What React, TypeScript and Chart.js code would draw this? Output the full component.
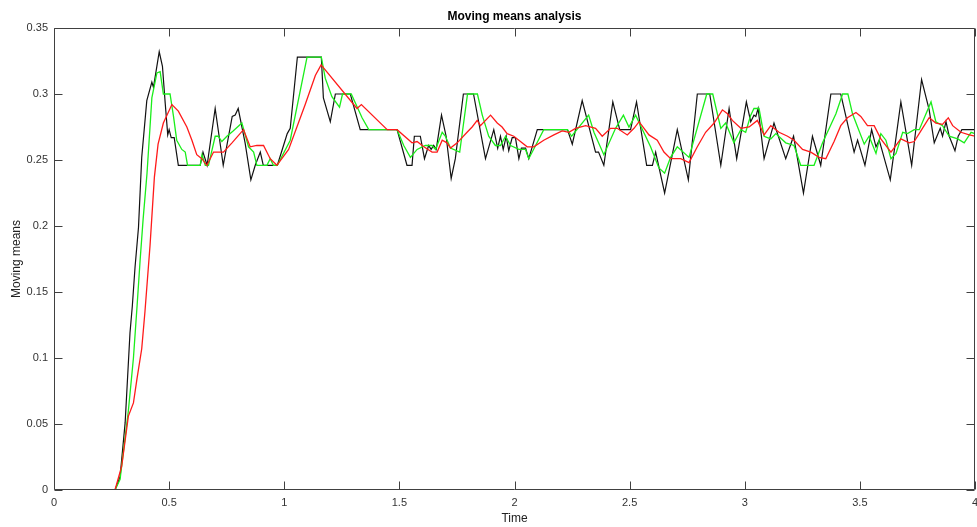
import React, { useEffect, useRef } from "react";
import { Chart, registerables } from "chart.js";

Chart.register(...registerables);

const xTicks = [0, 0.5, 1, 1.5, 2, 2.5, 3, 3.5, 4];
const yTicks = [0, 0.05, 0.1, 0.15, 0.2, 0.25, 0.3, 0.35];

const blackT = [0.239, 0.265, 0.287, 0.309, 0.33, 0.34, 0.352, 0.367, 0.381, 0.403, 0.425, 0.432, 0.457, 0.471, 0.483, 0.494, 0.5, 0.509, 0.522, 0.54, 0.635, 0.647, 0.665, 0.7, 0.735, 0.774, 0.787, 0.8, 0.83, 0.855, 0.874, 0.896, 0.909, 0.97, 1.013, 1.026, 1.057, 1.161, 1.17, 1.2, 1.222, 1.287, 1.33, 1.49, 1.533, 1.555, 1.565, 1.591, 1.609, 1.627, 1.638, 1.649, 1.66, 1.683, 1.703, 1.725, 1.743, 1.778, 1.822, 1.874, 1.91, 1.927, 1.939, 1.951, 1.964, 1.975, 1.99, 2.004, 2.019, 2.03, 2.048, 2.062, 2.099, 2.23, 2.251, 2.294, 2.352, 2.365, 2.388, 2.427, 2.457, 2.504, 2.53, 2.574, 2.599, 2.613, 2.652, 2.707, 2.755, 2.794, 2.848, 2.896, 2.932, 2.965, 3.007, 3.026, 3.04, 3.048, 3.058, 3.084, 3.127, 3.178, 3.212, 3.255, 3.294, 3.33, 3.374, 3.417, 3.475, 3.49, 3.522, 3.551, 3.57, 3.584, 3.632, 3.678, 3.725, 3.768, 3.801, 3.823, 3.849, 3.859, 3.874, 3.888, 3.913, 3.927, 3.943, 4.0];
const blackV = [0, 0, 0.01, 0.051, 0.119, 0.139, 0.169, 0.199, 0.252, 0.295, 0.309, 0.305, 0.332, 0.321, 0.293, 0.269, 0.273, 0.267, 0.267, 0.246, 0.246, 0.256, 0.246, 0.289, 0.246, 0.283, 0.284, 0.289, 0.263, 0.235, 0.246, 0.256, 0.246, 0.246, 0.27, 0.274, 0.328, 0.328, 0.297, 0.279, 0.3, 0.3, 0.273, 0.273, 0.246, 0.246, 0.268, 0.268, 0.251, 0.261, 0.258, 0.261, 0.258, 0.284, 0.268, 0.236, 0.251, 0.3, 0.3, 0.251, 0.273, 0.259, 0.268, 0.258, 0.268, 0.257, 0.267, 0.267, 0.251, 0.259, 0.259, 0.251, 0.273, 0.273, 0.262, 0.295, 0.256, 0.256, 0.246, 0.294, 0.273, 0.273, 0.294, 0.246, 0.246, 0.256, 0.225, 0.273, 0.235, 0.3, 0.3, 0.246, 0.289, 0.251, 0.294, 0.279, 0.284, 0.283, 0.289, 0.251, 0.278, 0.251, 0.268, 0.225, 0.268, 0.246, 0.3, 0.3, 0.256, 0.265, 0.246, 0.273, 0.26, 0.265, 0.235, 0.294, 0.246, 0.311, 0.288, 0.263, 0.274, 0.268, 0.279, 0.268, 0.257, 0.268, 0.273, 0.273];

const greenT = [0.239, 0.265, 0.287, 0.309, 0.323, 0.345, 0.361, 0.374, 0.387, 0.404, 0.417, 0.425, 0.447, 0.461, 0.475, 0.504, 0.519, 0.533, 0.555, 0.57, 0.58, 0.635, 0.643, 0.657, 0.671, 0.7, 0.713, 0.729, 0.751, 0.778, 0.816, 0.845, 0.867, 0.881, 0.925, 0.939, 0.953, 0.97, 1.026, 1.099, 1.161, 1.178, 1.207, 1.24, 1.253, 1.291, 1.338, 1.367, 1.49, 1.519, 1.548, 1.577, 1.613, 1.642, 1.657, 1.686, 1.7, 1.722, 1.762, 1.796, 1.839, 1.86, 1.888, 1.917, 1.939, 1.961, 1.983, 2.019, 2.048, 2.062, 2.127, 2.23, 2.248, 2.322, 2.345, 2.388, 2.439, 2.473, 2.497, 2.526, 2.591, 2.627, 2.652, 2.678, 2.707, 2.758, 2.835, 2.861, 2.896, 2.917, 2.953, 2.983, 3.004, 3.026, 3.04, 3.062, 3.084, 3.113, 3.135, 3.178, 3.214, 3.243, 3.301, 3.338, 3.396, 3.425, 3.448, 3.468, 3.49, 3.519, 3.54, 3.57, 3.591, 3.613, 3.635, 3.657, 3.686, 3.707, 3.736, 3.758, 3.809, 3.83, 3.859, 3.888, 3.925, 3.953, 3.983, 4.0];
const greenV = [0, 0, 0.008, 0.04, 0.06, 0.1, 0.14, 0.174, 0.205, 0.24, 0.275, 0.297, 0.316, 0.317, 0.3, 0.3, 0.283, 0.265, 0.258, 0.256, 0.246, 0.246, 0.254, 0.246, 0.246, 0.268, 0.268, 0.264, 0.268, 0.272, 0.278, 0.26, 0.256, 0.246, 0.246, 0.251, 0.246, 0.246, 0.265, 0.328, 0.328, 0.312, 0.298, 0.29, 0.3, 0.3, 0.282, 0.273, 0.273, 0.261, 0.252, 0.258, 0.261, 0.261, 0.258, 0.271, 0.268, 0.259, 0.256, 0.3, 0.3, 0.284, 0.268, 0.261, 0.261, 0.268, 0.261, 0.258, 0.258, 0.251, 0.273, 0.273, 0.268, 0.284, 0.271, 0.254, 0.274, 0.284, 0.275, 0.284, 0.26, 0.244, 0.24, 0.252, 0.26, 0.252, 0.3, 0.3, 0.274, 0.278, 0.263, 0.273, 0.271, 0.284, 0.289, 0.289, 0.268, 0.266, 0.27, 0.263, 0.261, 0.246, 0.246, 0.263, 0.285, 0.3, 0.3, 0.285, 0.275, 0.262, 0.268, 0.255, 0.27, 0.265, 0.251, 0.255, 0.271, 0.27, 0.273, 0.273, 0.294, 0.279, 0.276, 0.268, 0.266, 0.263, 0.271, 0.27];

const redT = [0.239, 0.265, 0.294, 0.323, 0.345, 0.361, 0.381, 0.395, 0.417, 0.436, 0.452, 0.475, 0.512, 0.54, 0.577, 0.599, 0.62, 0.642, 0.664, 0.693, 0.736, 0.773, 0.823, 0.852, 0.881, 0.91, 0.939, 0.968, 1.019, 1.091, 1.135, 1.16, 1.316, 1.335, 1.447, 1.49, 1.555, 1.577, 1.606, 1.642, 1.664, 1.686, 1.707, 1.722, 1.751, 1.794, 1.816, 1.838, 1.852, 1.896, 1.925, 1.946, 1.968, 1.997, 2.019, 2.055, 2.084, 2.127, 2.171, 2.207, 2.236, 2.265, 2.309, 2.352, 2.381, 2.417, 2.446, 2.49, 2.519, 2.541, 2.584, 2.62, 2.649, 2.678, 2.722, 2.758, 2.794, 2.83, 2.867, 2.903, 2.925, 2.946, 2.983, 3.019, 3.055, 3.084, 3.113, 3.149, 3.186, 3.214, 3.251, 3.287, 3.323, 3.352, 3.388, 3.417, 3.446, 3.483, 3.504, 3.533, 3.562, 3.591, 3.635, 3.678, 3.714, 3.736, 3.765, 3.801, 3.83, 3.859, 3.884, 3.903, 3.939, 3.975, 4.0];
const redV = [0, 0, 0.018, 0.056, 0.066, 0.085, 0.107, 0.135, 0.185, 0.237, 0.262, 0.278, 0.292, 0.287, 0.275, 0.265, 0.254, 0.251, 0.246, 0.256, 0.256, 0.263, 0.273, 0.26, 0.261, 0.261, 0.251, 0.246, 0.258, 0.292, 0.314, 0.322, 0.289, 0.292, 0.273, 0.273, 0.263, 0.264, 0.26, 0.256, 0.256, 0.265, 0.263, 0.259, 0.263, 0.271, 0.275, 0.28, 0.276, 0.284, 0.278, 0.275, 0.27, 0.268, 0.265, 0.26, 0.26, 0.265, 0.269, 0.272, 0.271, 0.274, 0.276, 0.274, 0.268, 0.274, 0.274, 0.269, 0.274, 0.279, 0.269, 0.265, 0.256, 0.251, 0.251, 0.248, 0.26, 0.271, 0.278, 0.288, 0.285, 0.28, 0.274, 0.275, 0.28, 0.269, 0.276, 0.271, 0.268, 0.265, 0.258, 0.256, 0.252, 0.251, 0.264, 0.276, 0.282, 0.286, 0.283, 0.276, 0.276, 0.266, 0.256, 0.266, 0.263, 0.264, 0.272, 0.282, 0.278, 0.277, 0.282, 0.276, 0.271, 0.269, 0.268];

const toPoints = (t: number[], v: number[]) => t.map((x, i) => ({ x, y: v[i] }));

const FONT = "'Liberation Sans', Arial, Helvetica, sans-serif";
const AXIS_COLOR = "#404040";

const boxPlugin = {
  id: "matlabBox",
  afterDraw(chart: any) {
    const { ctx, chartArea } = chart;
    const { left, right, top, bottom } = chartArea;
    const xs = chart.scales.x;
    const ys = chart.scales.y;
    const len = 8;
    ctx.save();
    ctx.strokeStyle = AXIS_COLOR;
    ctx.lineWidth = 1;
    ctx.beginPath();
    const L = Math.round(left) + 0.5;
    const R = Math.round(right) - 0.5;
    const T = Math.round(top) + 0.5;
    const B = Math.round(bottom) - 0.5;
    ctx.rect(L, T, R - L, B - T);
    xTicks.forEach((v) => {
      const px = Math.round(xs.getPixelForValue(v)) + 0.5;
      ctx.moveTo(px, B);
      ctx.lineTo(px, B - len);
      ctx.moveTo(px, T);
      ctx.lineTo(px, T + len);
    });
    yTicks.forEach((v) => {
      const py = Math.round(ys.getPixelForValue(v)) + 0.5;
      ctx.moveTo(L, py);
      ctx.lineTo(L + len, py);
      ctx.moveTo(R, py);
      ctx.lineTo(R - len, py);
    });
    ctx.stroke();
    ctx.restore();
  },
};

export default function App() {
  const ref = useRef<HTMLCanvasElement | null>(null);

  useEffect(() => {
    if (!ref.current) return;
    const chart = new Chart(ref.current, {
      type: "line",
      data: {
        datasets: [
          {
            label: "Long moving mean",
            data: toPoints(redT, redV),
            borderColor: "#ff1a1a",
            borderWidth: 1.3,
            pointRadius: 0,
            tension: 0,
          },
          {
            label: "Short moving mean",
            data: toPoints(greenT, greenV),
            borderColor: "#1aee1a",
            borderWidth: 1.3,
            pointRadius: 0,
            tension: 0,
          },
          {
            label: "Signal",
            data: toPoints(blackT, blackV),
            borderColor: "#111111",
            borderWidth: 1.2,
            pointRadius: 0,
            tension: 0,
          },
        ],
      },
      options: {
        animation: false,
        responsive: false,
        devicePixelRatio: 1,
        layout: { padding: { left: 0, right: 2, top: 0, bottom: 0 } },
        plugins: {
          legend: { display: false },
          tooltip: { enabled: false },
          title: {
            display: true,
            text: "Moving means analysis",
            fullSize: false,
            color: "#000",
            font: { family: FONT, size: 12, weight: "bold", lineHeight: 1.2 },
            padding: { top: 9, bottom: 4.6 },
          },
        },
        scales: {
          x: {
            type: "linear",
            min: 0,
            max: 4,
            afterFit: (s: any) => {
              s.height = 37;
              s.paddingLeft = 0;
              s.paddingRight = 0;
            },
            afterBuildTicks: (s: any) => {
              s.ticks = xTicks.map((v) => ({ value: v }));
            },
            grid: { display: false, drawTicks: false, tickLength: 0 },
            border: { display: false },
            ticks: {
              autoSkip: false,
              maxRotation: 0,
              padding: 6,
              color: "#333",
              font: { family: FONT, size: 11 },
              callback: (v: any) => String(Number(Number(v).toFixed(2))),
            },
            title: {
              display: true,
              text: "Time",
              color: "#222",
              font: { family: FONT, size: 12, lineHeight: 1.2 },
              padding: { top: 0, bottom: 1 },
            },
          },
          y: {
            type: "linear",
            min: 0,
            max: 0.35,
            afterFit: (s: any) => {
              s.width = 54;
              s.paddingTop = 0;
              s.paddingBottom = 0;
            },
            afterBuildTicks: (s: any) => {
              s.ticks = yTicks.map((v) => ({ value: v }));
            },
            grid: { display: false, drawTicks: false, tickLength: 0 },
            border: { display: false },
            ticks: {
              autoSkip: false,
              padding: 6,
              color: "#333",
              font: { family: FONT, size: 11 },
              callback: (v: any) => String(Number(Number(v).toFixed(2))),
            },
            title: {
              display: true,
              text: "Moving means",
              color: "#222",
              font: { family: FONT, size: 12, lineHeight: 1.2 },
              padding: { top: 9, bottom: 0 },
            },
          },
        },
      },
      plugins: [boxPlugin],
    });
    return () => chart.destroy();
  }, []);

  return (
    <div style={{ position: "fixed", left: 0, top: 0, width: 977, height: 527, background: "#fff" }}>
      <canvas ref={ref} width={977} height={527} style={{ display: "block" }} />
    </div>
  );
}
